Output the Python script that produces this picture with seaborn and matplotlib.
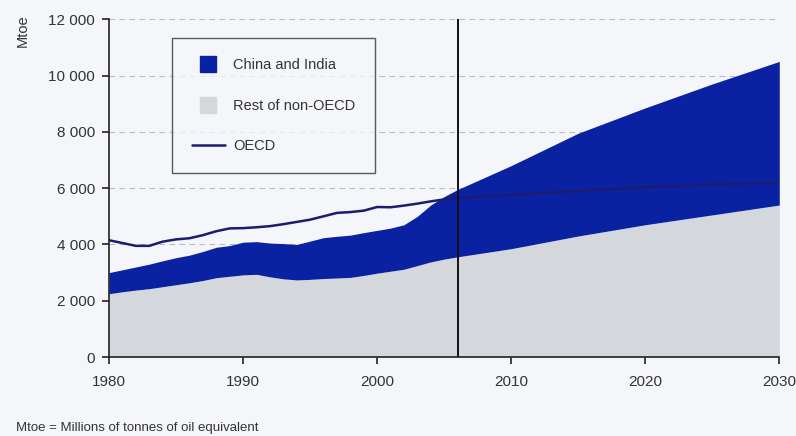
import numpy as np
import pandas as pd
import matplotlib
matplotlib.use("Agg")
import matplotlib.pyplot as plt
import seaborn as sns
from matplotlib.lines import Line2D

years = [1980, 1981, 1982, 1983, 1984, 1985, 1986, 1987, 1988, 1989,
         1990, 1991, 1992, 1993, 1994, 1995, 1996, 1997, 1998, 1999,
         2000, 2001, 2002, 2003, 2004, 2005, 2006, 2010, 2015, 2020, 2025, 2030]
rest_non_oecd = [2250, 2320, 2380, 2430, 2500, 2570, 2640, 2720, 2820, 2870,
                 2920, 2940, 2850, 2780, 2740, 2760, 2790, 2810, 2830, 2900,
                 2980, 3050, 3120, 3250, 3380, 3480, 3560, 3850, 4300, 4700, 5050, 5400]
china_india = [750, 780, 820, 870, 920, 960, 980, 1030, 1080, 1090,
               1160, 1160, 1200, 1250, 1260, 1360, 1450, 1480, 1500, 1520,
               1520, 1530, 1580, 1750, 2020, 2220, 2390, 2950, 3650, 4150, 4650, 5100]
oecd = [4150, 4050, 3950, 3950, 4100, 4180, 4220, 4330, 4470, 4570,
        4580, 4610, 4650, 4720, 4800, 4880, 5000, 5120, 5150, 5200,
        5330, 5320, 5380, 5450, 5530, 5600, 5650, 5760, 5900, 6030, 6130, 6200]
y_ticks = [0, 2000, 4000, 6000, 8000, 10000, 12000]
x_ticks = [1980, 1990, 2000, 2010, 2020, 2030]
labels = ["China and India", "Rest of non-OECD", "OECD"]

BG = "#f4f6f9"
BLUE = "#0a22a2"
GREY = "#d4d7dc"
NAVY = "#1c1c6e"
TXT = "#333333"

sns.set_theme(style="white")
plt.rcParams['font.family'] = ['Liberation Sans', 'DejaVu Sans']

df = pd.DataFrame({"year": years, "OECD": oecd})

fig = plt.figure(figsize=(7.96, 4.36), dpi=100, facecolor=BG)
ax = fig.add_axes([0.137, 0.181, 0.842, 0.775])
ax.set_facecolor(BG)

for yv in y_ticks[1:]:
    ax.axhline(yv, color="#b8bcc2", lw=0.8, ls=(0, (5, 4)), zorder=0)

ax.stackplot(years, rest_non_oecd, china_india, colors=[GREY, BLUE], zorder=2, lw=0)
sns.lineplot(data=df, x="year", y="OECD", ax=ax, color=NAVY, lw=1.8, zorder=3, legend=False)
ax.plot([2006, 2006], [0, 12000], color="#111111", lw=1.4, zorder=4)

ax.set_xlim(1980, 2030)
ax.set_ylim(0, 12000)
ax.set_xticks(x_ticks)
ax.set_yticks(y_ticks)
ax.set_yticklabels([f"{v:,}".replace(",", " ") for v in y_ticks])
ax.set_xlabel("")
ax.set_ylabel("")
for s in ["top", "right"]:
    ax.spines[s].set_visible(False)
for s in ["left", "bottom"]:
    ax.spines[s].set_color("#222222")
    ax.spines[s].set_linewidth(1.2)
    ax.spines[s].set_zorder(5)
ax.tick_params(axis="both", direction="out", length=5, width=1.2, color="#222222",
               labelsize=11, labelcolor=TXT, left=True, bottom=True)
ax.tick_params(axis="x", pad=8)
ax.tick_params(axis="y", pad=5)
ax.margins(0)

fig.text(0.028, 0.968, "Mtoe", rotation=90, ha="center", va="top", fontsize=10.5, color=TXT)
fig.text(0.02, 0.018, "Mtoe = Millions of tonnes of oil equivalent", ha="left", va="center",
         fontsize=9.5, color=TXT)

handles = [Line2D([], [], marker="s", ls="none", markersize=12, color=BLUE),
           Line2D([], [], marker="s", ls="none", markersize=12, color=GREY),
           Line2D([], [], color=NAVY, lw=1.8)]
leg = fig.legend(handles, labels, loc="upper left",
                 bbox_to_anchor=(172 / 796, 1 - 38 / 436, (375 - 172) / 796, 0),
                 bbox_transform=fig.transFigure, mode="expand",
                 frameon=True, fontsize=10.5, handlelength=2.2,
                 borderpad=1.4, labelspacing=1.8, handletextpad=0.6, fancybox=False,
                 borderaxespad=0)
leg.get_frame().set_edgecolor(TXT)
leg.get_frame().set_facecolor(BG)
leg.get_frame().set_linewidth(1.0)
leg.set_zorder(6)
for t in leg.get_texts():
    t.set_color(TXT)

fig.savefig("out.png", dpi=100, facecolor=BG)
